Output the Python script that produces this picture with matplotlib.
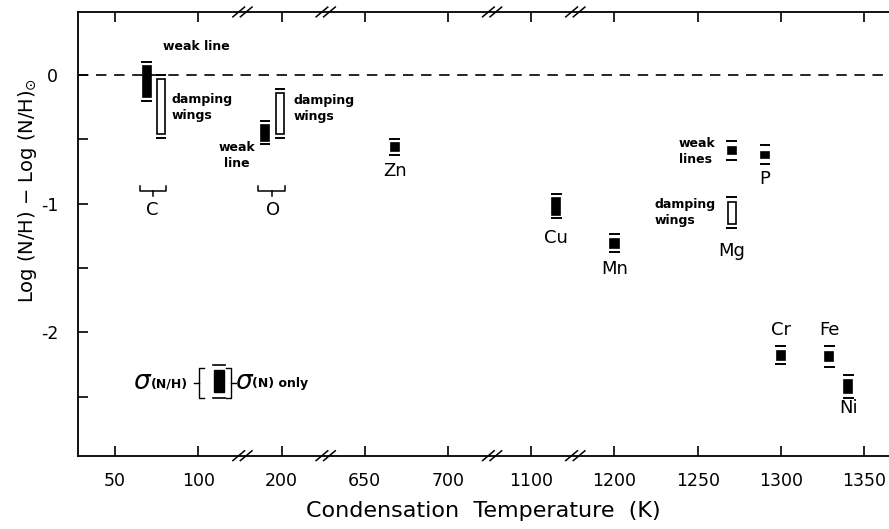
import numpy as np
import matplotlib.pyplot as plt
import matplotlib.transforms as mtransforms
from matplotlib.patches import Rectangle

plt.rcParams['font.family'] = 'DejaVu Sans'
plt.rcParams['axes.unicode_minus'] = False
plt.rcParams['lines.scale_dashes'] = False

# broken temperature axis: temperature -> plotted position
break_t = [0, 125, 175, 225, 625, 725, 1075, 1125, 1175, 1400]
break_p = [-1, 1.5, 1.5, 2.5, 2.5, 4.5, 4.5, 5.5, 5.5, 10]


def xpos(t):
    return np.interp(t, break_t, break_p)


tick_temps = [50, 100, 200, 650, 700, 1100, 1200, 1250, 1300, 1350]
axis_breaks = [125, 225, 725, 1125]

# abundance measurements (filled = weak line, open = damping wings)
bar_temp = [69, 77.5, 190, 199, 668, 1115, 1200, 1270.5, 1270.5, 1290.5, 1300, 1329, 1340.5]
bar_val = [-0.05, -0.245, -0.45, -0.30, -0.56, -1.02, -1.31, -0.585, -1.07, -0.62, -2.18, -2.19, -2.42]
sig_n = [0.12, 0.215, 0.06, 0.16, 0.03, 0.065, 0.035, 0.026, 0.085, 0.025, 0.035, 0.035, 0.05]
sig_nh = [0.15, 0.245, 0.09, 0.19, 0.06, 0.095, 0.07, 0.075, 0.12, 0.075, 0.07, 0.08, 0.09]
filled = [True, False, True, False, True, True, True, True, False, True, True, True, True]

elem_names = ['C', 'O', 'Zn', 'Cu', 'Mn', 'Mg', 'P', 'Cr', 'Fe', 'Ni']
elem_temps = [72, 195, 668, 1115, 1200, 1270.5, 1290.5, 1300, 1329, 1340.5]
elem_label_y = [-1.05, -1.05, -0.75, -1.27, -1.51, -1.37, -0.81, -1.98, -1.98, -2.59]

fig = plt.figure(figsize=(8.89, 5.29), dpi=100)
ax = fig.add_axes([0.0874, 0.1386, 0.9136, 0.8388])
ax.set_xlim(-0.45, 9.31)
ax.set_ylim(-2.96, 0.49)

ax.axhline(0, color='k', lw=1.2, ls=(0, (7.5, 5.5)))

bw = 0.1
cw = 0.13
for t, v, sn, snh, f in zip(bar_temp, bar_val, sig_n, sig_nh, filled):
    x = xpos(t)
    ax.add_patch(Rectangle((x - bw / 2, v - sn), bw, 2 * sn,
                           facecolor='k' if f else 'white', edgecolor='k', lw=1.2))
    ax.hlines([v - snh, v + snh], x - cw / 2, x + cw / 2, color='k', lw=1.4)

for name, t, ly in zip(elem_names, elem_temps, elem_label_y):
    ax.text(xpos(t), ly, name, ha='center', va='center', fontsize=13)

# brackets joining the two C and two O estimates
for pair in [(0, 1), (2, 3)]:
    x0 = xpos(bar_temp[pair[0]]) - 0.08
    x1 = xpos(bar_temp[pair[1]]) + 0.06
    xm = (x0 + x1) / 2
    ax.plot([x0, x0, x1, x1], [-0.86, -0.905, -0.905, -0.86], color='k', lw=1.1)
    ax.plot([xm, xm], [-0.905, -0.94], color='k', lw=1.1)

note = dict(fontsize=9, fontweight='bold', linespacing=1.3)
ax.text(0.577, 0.224, 'weak line', ha='left', va='center', **note)
ax.text(0.673, -0.253, 'damping\nwings', ha='left', va='center', **note)
ax.text(1.466, -0.623, 'weak\nline', ha='center', va='center', multialignment='center', **note)
ax.text(2.139, -0.257, 'damping\nwings', ha='left', va='center', **note)
ax.text(7.212, -0.595, 'weak\nlines', ha='right', va='center', multialignment='left', **note)
ax.text(6.478, -1.066, 'damping\nwings', ha='left', va='center', **note)

# axis break marks on top and bottom
bt = mtransforms.blended_transform_factory(ax.transData, ax.transAxes)
for b in axis_breaks:
    x = xpos(b) + 0.03
    for yb in (0, 1):
        for off in (-0.045, 0.045):
            ax.plot([x + off - 0.07, x + off + 0.07], [yb - 0.011, yb + 0.011],
                    color='k', lw=1.1, transform=bt, clip_on=False)

# sigma legend
ax.add_patch(Rectangle((0.1675, 0.144), 0.0123, 0.0496, transform=ax.transAxes,
                       facecolor='k', edgecolor='k', lw=1))
for yy in (0.131, 0.205):
    ax.plot([0.166, 0.181], [yy, yy], color='k', lw=1.2, transform=ax.transAxes)
ax.plot([0.1557, 0.1497, 0.1497, 0.1557], [0.198, 0.198, 0.130, 0.130],
        color='k', lw=1, transform=ax.transAxes)
ax.plot([0.1435, 0.1497], [0.164, 0.164], color='k', lw=1, transform=ax.transAxes)
ax.plot([0.183, 0.189, 0.189, 0.183], [0.198, 0.198, 0.130, 0.130],
        color='k', lw=1, transform=ax.transAxes)
ax.plot([0.189, 0.195], [0.164, 0.164], color='k', lw=1, transform=ax.transAxes)
ax.text(0.068, 0.166, r'$\sigma$', transform=ax.transAxes, fontsize=19,
        ha='left', va='center')
ax.text(0.0904, 0.162, '(N/H)', transform=ax.transAxes, fontsize=9,
        fontweight='bold', ha='left', va='center')
ax.text(0.1939, 0.166, r'$\sigma$', transform=ax.transAxes, fontsize=19,
        ha='left', va='center')
ax.text(0.2149, 0.162, '(N) only', transform=ax.transAxes, fontsize=9,
        fontweight='bold', ha='left', va='center')

ax.set_xticks(xpos(tick_temps))
ax.set_xticklabels([str(t) for t in tick_temps])
ax.set_yticks([0, -1, -2])
ax.set_yticklabels(['0', '-1', '-2'])
ax.set_yticks([-0.5, -1.5, -2.5], minor=True)
ax.tick_params(which='both', direction='in', length=7, width=1.2,
               top=True, right=False, labelsize=12.5)
ax.tick_params(axis='x', pad=12)
ax.tick_params(axis='y', pad=14)
ax.spines['right'].set_visible(False)
for s in ('left', 'top', 'bottom'):
    ax.spines[s].set_linewidth(1.3)

ax.set_xlabel('Condensation  Temperature  (K)', fontsize=16, labelpad=8)
fig.text(0.031, 0.64, r'Log (N/H) $-$ Log (N/H)$_{\odot}$', rotation=90,
         ha='center', va='center', fontsize=14)

fig.savefig('out.png', dpi=100)
